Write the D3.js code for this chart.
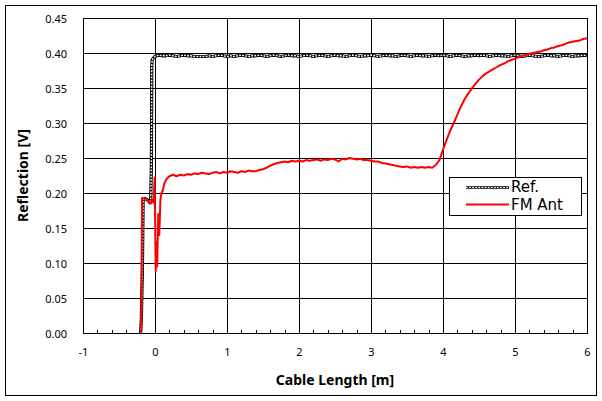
<!DOCTYPE html>
<html>
<head>
<meta charset="utf-8">
<script src="https://cdn.jsdelivr.net/npm/d3@7"></script>
<style>
  body { margin: 0; background: #fff; }
  text { font-family: "Noto Sans", sans-serif; fill: #000; }
</style>
</head>
<body>
<svg class="chart" width="602" height="401"></svg>
<script>
// cable length axis
let xTicks = [-1, 0, 1, 2, 3, 4, 5, 6];
let yTicks = [0, 0.05, 0.10, 0.15, 0.20, 0.25, 0.30, 0.35, 0.40, 0.45];

let seriesNames = ['Ref.', 'FM Ant'];

// Ref. : the step around 0 m, then a flat part sampled every 0.05 m from 0.05 m
let refEdgeLen  = [-0.20, -0.19, -0.175, -0.165, -0.14, -0.10, -0.07, -0.06, -0.05, -0.045, -0.04, -0.02, 0.00];
let refEdgeVolt = [0.000, 0.020, 0.090, 0.190, 0.192, 0.190, 0.186, 0.190, 0.240, 0.380, 0.390, 0.393, 0.395];
let refFlatStart = 0.05;
let refFlatStep = 0.05;
let refFlatVolt = [
  .397,.396,.396,.397,.396,.395,.396,.397,.396,.396,
  .395,.395,.395,.395,.396,.395,.396,.397,.396,.395,
  .396,.395,.396,.397,.396,.395,.396,.396,.397,.396,
  .395,.396,.397,.396,.395,.396,.397,.396,.396,.395,
  .396,.397,.396,.395,.396,.397,.396,.395,.396,.397,
  .396,.396,.395,.396,.397,.396,.395,.396,.396,.397,
  .396,.395,.396,.397,.396,.396,.395,.396,.397,.396,
  .395,.396,.397,.396,.396,.395,.396,.397,.396,.397,
  .396,.395,.396,.397,.396,.395,.396,.396,.397,.396,
  .397,.396,.395,.396,.397,.396,.396,.395,.396,.397,
  .396,.395,.396,.397,.396,.395,.395,.396,.397,.396,
  .396,.395,.396,.397,.396,.395,.396,.396,.397,.396
];

// FM Ant : reflections near the connector, then sampled every 0.05 m from 0.30 m
let antEdgeLen  = [-0.20, -0.19, -0.185, -0.18, -0.15, -0.12, -0.09, -0.06, -0.04, -0.02, -0.005, 0.01, 0.02, 0.03, 0.045, 0.06, 0.075, 0.09, 0.11, 0.13, 0.16, 0.20, 0.25];
let antEdgeVolt = [0.000, 0.005, 0.100, 0.193, 0.192, 0.190, 0.188, 0.185, 0.190, 0.186, 0.222, 0.088, 0.130, 0.095, 0.170, 0.140, 0.190, 0.200, 0.204, 0.214, 0.220, 0.224, 0.226];
let antFlatStart = 0.30;
let antFlatStep = 0.05;
let antFlatVolt = [
  .224,.226,.225,.227,.226,.228,.227,.229,.228,.227,
  .229,.230,.228,.230,.229,.231,.230,.229,.231,.230,
  .232,.231,.231,.233,.234,.236,.239,.241,.243,.244,
  .245,.244,.246,.245,.246,.245,.247,.246,.247,.248,
  .246,.248,.247,.249,.248,.245,.249,.248,.250,.249,
  .248,.249,.247,.247,.246,.245,.245,.243,.242,.241,
  .240,.239,.238,.237,.238,.236,.237,.236,.237,.236,
  .237,.236,.240,.247,.262,.276,.289,.300,.312,.324,
  .334,.342,.349,.356,.362,.367,.371,.374,.377,.380,
  .383,.385,.388,.390,.392,.394,.396,.397,.399,.400,
  .401,.402,.404,.405,.407,.408,.410,.411,.413,.415,
  .416,.417,.418,.420,.421
];

function buildSeries(edgeLen, edgeVolt, start, step, flat){
  let pts = edgeLen.map((d, i) => [d, edgeVolt[i]]);
  flat.forEach((v, i) => pts.push([+(start + i * step).toFixed(3), v]));
  return pts;
}

let refData = buildSeries(refEdgeLen, refEdgeVolt, refFlatStart, refFlatStep, refFlatVolt);
let antData = buildSeries(antEdgeLen, antEdgeVolt, antFlatStart, antFlatStep, antFlatVolt);

let plot = {left: 83, right: 587, top: 18, bottom: 333};

let svg = d3.select('svg.chart');

// outer chart frame
svg.append('rect')
  .attr('x', 5.5).attr('y', 5.5)
  .attr('width', 591).attr('height', 390)
  .style('fill', '#fff')
  .style('stroke', '#000')
  .style('stroke-width', '1px');

let x = d3.scaleLinear().domain([-1, 6]).range([plot.left, plot.right]);
let y = d3.scaleLinear().domain([0, 0.45]).range([plot.bottom, plot.top]);

// grid
svg.append('g')
  .selectAll('line.hgrid')
  .data(yTicks)
  .enter()
  .append('line')
  .attr('class', 'hgrid')
  .attr('x1', plot.left).attr('x2', plot.right)
  .attr('y1', d => Math.round(y(d)) + 0.5)
  .attr('y2', d => Math.round(y(d)) + 0.5)
  .style('stroke', '#000')
  .style('stroke-width', '1px');

svg.append('g')
  .selectAll('line.vgrid')
  .data(xTicks)
  .enter()
  .append('line')
  .attr('class', 'vgrid')
  .attr('y1', plot.top).attr('y2', plot.bottom)
  .attr('x1', d => Math.round(x(d)) + 0.5)
  .attr('x2', d => Math.round(x(d)) + 0.5)
  .style('stroke', '#000')
  .style('stroke-width', '1px');

// x axis: labels + inward minor ticks
let xAxis = d3.axisBottom(x)
  .tickValues(xTicks)
  .tickSize(0)
  .tickPadding(15)
  .tickFormat(d => String(d));   // plain hyphen for -1, like the original

let gx = svg.append('g')
  .attr('transform', `translate(0, ${plot.bottom + 0.5})`)
  .call(xAxis);
gx.select('.domain').remove();
gx.selectAll('text')
  .style('font-family', '"Noto Sans", sans-serif')
  .style('font-size', '11px');

let minorX = d3.range(-1, 6.001, 0.2).filter(d => Math.abs(d - Math.round(d)) > 0.01);
svg.append('g')
  .selectAll('line.minor')
  .data(minorX)
  .enter()
  .append('line')
  .attr('class', 'minor')
  .attr('x1', d => Math.round(x(d)) + 0.5)
  .attr('x2', d => Math.round(x(d)) + 0.5)
  .attr('y1', plot.bottom)
  .attr('y2', plot.bottom - 3)
  .style('stroke', '#000')
  .style('stroke-width', '1px');

// y axis labels
let yAxis = d3.axisLeft(y)
  .tickValues(yTicks)
  .tickSize(0)
  .tickPadding(16)
  .tickFormat(d3.format('.2f'));

let gy = svg.append('g')
  .attr('transform', `translate(${plot.left}, 0.5)`)
  .call(yAxis);
gy.select('.domain').remove();
gy.selectAll('text')
  .style('font-family', '"Noto Sans", sans-serif')
  .style('font-size', '11px');

// plot border
svg.append('rect')
  .attr('x', plot.left + 0.5).attr('y', plot.top + 0.5)
  .attr('width', plot.right - plot.left).attr('height', plot.bottom - plot.top)
  .style('fill', 'none')
  .style('stroke', '#000')
  .style('stroke-width', '1px');

let line = d3.line()
  .x(d => x(d[0]))
  .y(d => y(d[1]));

// Ref. drawn as a chain of small hollow dots
function chainLine(sel, w){
  sel.append('path')
    .style('fill', 'none')
    .style('stroke', '#000')
    .style('stroke-width', w + 'px')
    .style('stroke-linejoin', 'round');
  sel.append('path')
    .style('fill', 'none')
    .style('stroke', '#fff')
    .style('stroke-width', (w * 0.45) + 'px')
    .style('stroke-dasharray', '1.8 1.3');
}

let refG = svg.append('g').call(chainLine, 3.2);
refG.selectAll('path').attr('d', line(refData));

svg.append('path')
  .attr('d', line(antData))
  .style('fill', 'none')
  .style('stroke', '#ff0000')
  .style('stroke-width', '2px')
  .style('stroke-linejoin', 'round');

// legend
let legend = svg.append('g').attr('transform', 'translate(449.5, 177.5)');
legend.append('rect')
  .attr('width', 132).attr('height', 38)
  .style('fill', '#fff')
  .style('stroke', '#000')
  .style('stroke-width', '1px');

let refKey = legend.append('g').call(chainLine, 2.4);
refKey.selectAll('path').attr('d', 'M16.5,10 H59.5');
legend.append('line')
  .attr('x1', 16.5).attr('x2', 59.5)
  .attr('y1', 27).attr('y2', 27)
  .style('stroke', '#ff0000')
  .style('stroke-width', '2px');

legend.selectAll('text.key')
  .data(seriesNames)
  .enter()
  .append('text')
  .attr('class', 'key')
  .attr('x', 61.5)
  .attr('y', (d, i) => 14.5 + i * 18)
  .style('font-family', '"DejaVu Sans", sans-serif')
  .style('font-size', '15px')
  .text(d => d);

// axis titles
svg.append('text')
  .attr('x', (plot.left + plot.right) / 2)
  .attr('y', 380)
  .attr('dy', '0.35em')
  .attr('text-anchor', 'middle')
  .style('font-size', '14px')
  .style('font-weight', 'bold')
  .text('Cable Length [m]');

svg.append('text')
  .attr('transform', `translate(23, ${(plot.top + plot.bottom) / 2}) rotate(-90)`)
  .attr('dy', '0.35em')
  .attr('text-anchor', 'middle')
  .style('font-size', '14px')
  .style('font-weight', 'bold')
  .text('Reflection [V]');
</script>
</body>
</html>
